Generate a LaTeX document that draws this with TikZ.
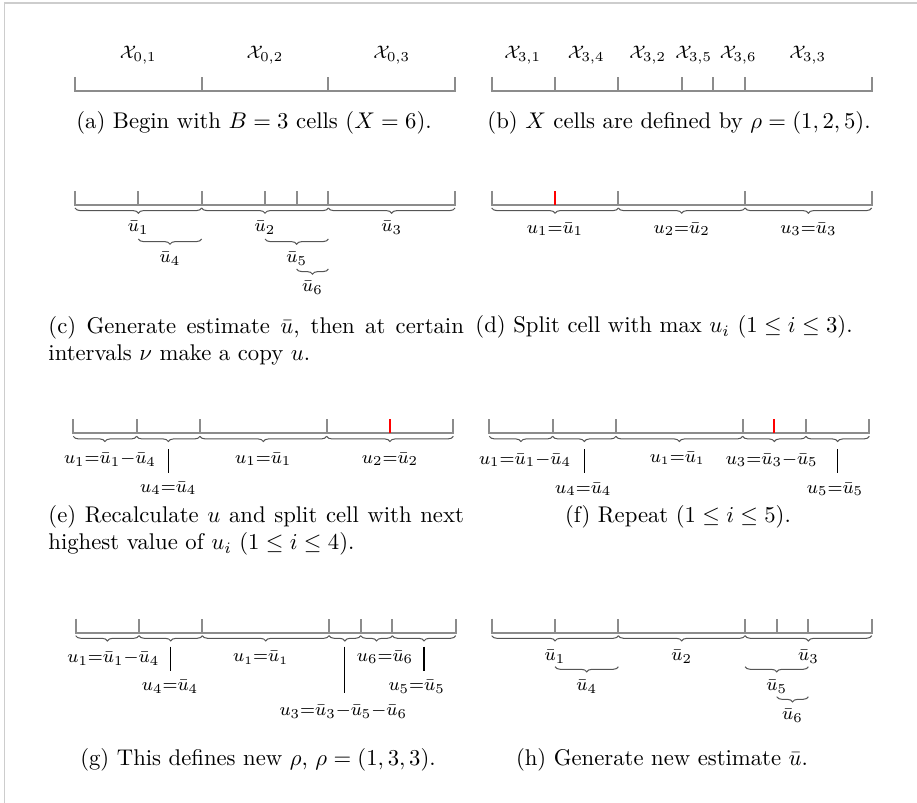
\documentclass[tikz,border=0pt]{standalone}
\usepackage{amsmath,amssymb}
\usetikzlibrary{decorations.pathreplacing}
\definecolor{rulergray}{RGB}{140,140,140}
\definecolor{bracegray}{RGB}{85,85,85}
\definecolor{framegray}{RGB}{205,205,205}
\tikzset{
  rulerline/.style={draw=rulergray, line width=0.9pt},
  redtick/.style={draw=red, line width=0.9pt},
  brc/.style={draw=bracegray, line width=0.45pt, decorate, decoration={brace, mirror, amplitude=2.3pt}},
  lbl/.style={font=\footnotesize, inner sep=0.5pt, anchor=center},
  captext/.style={inner sep=0pt, anchor=base west},
  capmid/.style={inner sep=0pt, anchor=base},
  capbox/.style={inner sep=0pt, anchor=north west, align=justify},
  conn/.style={draw=black, line width=0.45pt},
}
\newcommand{\myruler}[1]{%
  \draw[rulerline] (0,-14) -- (0,0) -- (380,0) -- (380,-14);
  \foreach \t in {#1} \draw[rulerline] (\t,0) -- (\t,-14);}
\begin{document}
\begin{tikzpicture}[x=0.4405pt, y=-0.4405pt]
\useasboundingbox (0,0) rectangle (917,803);
\draw[framegray, line width=0.5pt] (4.5,803) -- (4.5,3) -- (917,3);

% (a)
\begin{scope}[shift={(75,91)}]
  \myruler{126.67,253.33}
  \node[lbl] (a1) at (63.3,-36) {$\mathcal{X}_{0,1}$};
  \node[lbl] (a2) at (190,-36) {$\mathcal{X}_{0,2}$};
  \node[lbl] (a3) at (316.7,-36) {$\mathcal{X}_{0,3}$};
\end{scope}
\node[capmid] (capa) at (254,128.7) {(a) Begin with $B=3$ cells ($X=6$).};

% (b)
\begin{scope}[shift={(491.7,91)}]
  \myruler{63.33,126.67,190,221.67,253.33}
  \node[lbl] (b1) at (31,-36) {$\mathcal{X}_{3,1}$};
  \node[lbl] (b4) at (94.5,-36) {$\mathcal{X}_{3,4}$};
  \node[lbl] (b2) at (156,-36) {$\mathcal{X}_{3,2}$};
  \node[lbl] (b5) at (202,-36) {$\mathcal{X}_{3,5}$};
  \node[lbl] (b6) at (246.5,-36) {$\mathcal{X}_{3,6}$};
  \node[lbl] (b3) at (316,-36) {$\mathcal{X}_{3,3}$};
\end{scope}
\node[capmid] (capb) at (679,128.7) {(b) $X$ cells are defined by $\rho=(1,2,5)$.};

% (c)
\begin{scope}[shift={(75,205)}]
  \myruler{63.33,126.67,190,221.67,253.33}
  \draw[brc] (0,3) -- (126.67,3);
  \draw[brc] (126.67,3) -- (253.33,3);
  \draw[brc] (253.33,3) -- (380,3);
  \node[lbl] (c1) at (63.3,23) {$\bar{u}_1$};
  \node[lbl] (c2) at (190,23) {$\bar{u}_2$};
  \node[lbl] (c3) at (316.7,23) {$\bar{u}_3$};
  \draw[brc] (63.33,34) -- (126.67,34);
  \node[lbl] (c4) at (95,54) {$\bar{u}_4$};
  \draw[brc] (190,34) -- (253.33,34);
  \node[lbl] (c5) at (221.7,54) {$\bar{u}_5$};
  \draw[brc] (221.67,64) -- (253.33,64);
  \node[lbl] (c6) at (237.5,83) {$\bar{u}_6$};
\end{scope}
\node[capbox, text width=183pt] (capc) at (48,316) {(c) Generate estimate $\bar{u}$, then at certain intervals $\nu$ make a copy $u$.};

% (d)
\begin{scope}[shift={(491.7,205)}]
  \myruler{126.67,253.33}
  \draw[redtick] (63.33,0) -- (63.33,-14);
  \draw[brc] (0,3) -- (126.67,3);
  \draw[brc] (126.67,3) -- (253.33,3);
  \draw[brc] (253.33,3) -- (380,3);
  \node[lbl] (d1) at (63.3,24.3) {$u_1{=}\bar{u}_1$};
  \node[lbl] (d2) at (190,24.3) {$u_2{=}\bar{u}_2$};
  \node[lbl] (d3) at (316.7,24.3) {$u_3{=}\bar{u}_3$};
\end{scope}
\node[capmid] (capd) at (664,332.7) {(d) Split cell with max $u_i$ ($1\leq i\leq 3$).};

% (e)
\begin{scope}[shift={(73.3,433.3)}]
  \myruler{63.33,126.67,253.33}
  \draw[redtick] (316.67,0) -- (316.67,-14);
  \draw[brc] (0,3) -- (63.33,3);
  \draw[brc] (63.33,3) -- (126.67,3);
  \draw[brc] (126.67,3) -- (253.33,3);
  \draw[brc] (253.33,3) -- (380,3);
  \node[lbl] (e1) at (36.7,26) {$u_1{=}\bar{u}_1{-}\bar{u}_4$};
  \coordinate (e4t) at (95,16);
  \coordinate (e4b) at (95,39.4);
  \draw[conn] (e4t) -- (e4b);
  \node[lbl] (e4) at (95,55) {$u_4{=}\bar{u}_4$};
  \node[lbl] (e2) at (190,26) {$u_1{=}\bar{u}_1$};
  \node[lbl] (e3) at (316.7,26) {$u_2{=}\bar{u}_2$};
\end{scope}
\node[capbox, text width=183pt] (cape) at (48,505) {(e) Recalculate $u$ and split cell with next highest value of $u_i$ ($1\leq i\leq 4$).};

% (f)
\begin{scope}[shift={(489.3,433.3)}]
  \myruler{63.33,126.67,253.33,316.67}
  \draw[redtick] (285,0) -- (285,-14);
  \draw[brc] (0,3) -- (63.33,3);
  \draw[brc] (63.33,3) -- (126.67,3);
  \draw[brc] (126.67,3) -- (253.33,3);
  \draw[brc] (253.33,3) -- (316.67,3);
  \draw[brc] (316.67,3) -- (380,3);
  \node[lbl] (f1) at (35.7,26.7) {$u_1{=}\bar{u}_1{-}\bar{u}_4$};
  \coordinate (f4t) at (95,16);
  \coordinate (f4b) at (95,39.4);
  \draw[conn] (f4t) -- (f4b);
  \node[lbl] (f4) at (94,56) {$u_4{=}\bar{u}_4$};
  \node[lbl] (f2) at (188,25) {$u_{\scriptscriptstyle 1}{=}\bar{u}_{\scriptscriptstyle 1}$};
  \node[lbl] (f3) at (282.4,26.7) {$u_3{=}\bar{u}_3{-}\bar{u}_5$};
  \coordinate (f5t) at (348.3,16);
  \coordinate (f5b) at (348.3,39.4);
  \draw[conn] (f5t) -- (f5b);
  \node[lbl] (f5) at (345.7,56) {$u_5{=}\bar{u}_5$};
\end{scope}
\node[capmid] (capf) at (678,522) {(f) Repeat ($1\leq i\leq 5$).};

% (g)
\begin{scope}[shift={(75.7,632.7)}]
  \myruler{63.33,126.67,253.33,285,316.67}
  \draw[brc] (0,3) -- (63.33,3);
  \draw[brc] (63.33,3) -- (126.67,3);
  \draw[brc] (126.67,3) -- (253.33,3);
  \draw[brc] (253.33,3) -- (285,3);
  \draw[brc] (285,3) -- (316.67,3);
  \draw[brc] (316.67,3) -- (380,3);
  \node[lbl] (g1) at (37.6,25.6) {$u_1{=}\bar{u}_1{-}\bar{u}_4$};
  \coordinate (g4t) at (95,14);
  \coordinate (g4b) at (95,38);
  \draw[conn] (g4t) -- (g4b);
  \node[lbl] (g4) at (94.3,54) {$u_4{=}\bar{u}_4$};
  \node[lbl] (g2) at (185,25) {$u_{\scriptscriptstyle 1}{=}\bar{u}_{\scriptscriptstyle 1}$};
  \coordinate (g3t) at (269.2,14);
  \coordinate (g3b) at (269.2,60.6);
  \draw[conn] (g3t) -- (g3b);
  \node[lbl] (g3) at (267.6,79) {$u_3{=}\bar{u}_3{-}\bar{u}_5{-}\bar{u}_6$};
  \node[lbl] (g6) at (309.3,24.6) {$u_6{=}\bar{u}_6$};
  \coordinate (g5t) at (348.3,14);
  \coordinate (g5b) at (348.3,38);
  \draw[conn] (g5t) -- (g5b);
  \node[lbl] (g5) at (341,54) {$u_5{=}\bar{u}_5$};
\end{scope}
\node[capmid] (capg) at (258,765) {(g) This defines new $\rho$, $\rho=(1,3,3)$.};

% (h)
\begin{scope}[shift={(491.7,632.7)}]
  \myruler{63.33,126.67,253.33,285,316.67}
  \draw[brc] (0,3) -- (126.67,3);
  \draw[brc] (126.67,3) -- (253.33,3);
  \draw[brc] (253.33,3) -- (380,3);
  \node[lbl] (h1) at (63.3,24) {$\bar{u}_1$};
  \node[lbl] (h2) at (190,24) {$\bar{u}_2$};
  \node[lbl] (h3) at (316.7,24) {$\bar{u}_3$};
  \draw[brc] (63.33,34) -- (126.67,34);
  \node[lbl] (h4) at (95,54) {$\bar{u}_4$};
  \draw[brc] (253.33,34) -- (316.67,34);
  \node[lbl] (h5) at (285,54) {$\bar{u}_5$};
  \draw[brc] (285,64) -- (316.67,64);
  \node[lbl] (h6) at (300.8,83) {$\bar{u}_6$};
\end{scope}
\node[capmid] (caph) at (662,765) {(h) Generate new estimate $\bar{u}$.};
\end{tikzpicture}
\end{document}
